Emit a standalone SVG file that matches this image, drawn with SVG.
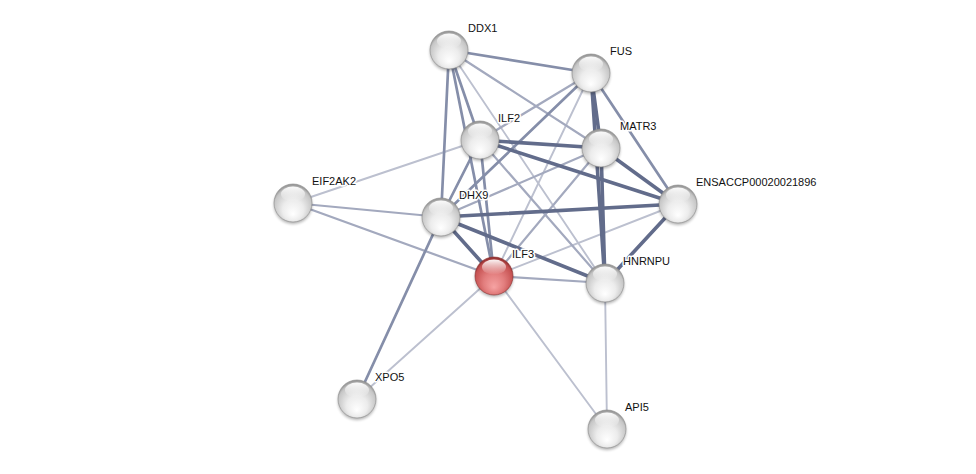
<svg xmlns="http://www.w3.org/2000/svg" width="976" height="474" viewBox="0 0 976 474">
<defs>
<radialGradient id="gGrey" cx="50%" cy="58%" r="55%" fx="50%" fy="80%">
<stop offset="0" stop-color="#ffffff"/>
<stop offset="0.5" stop-color="#ececec"/>
<stop offset="0.9" stop-color="#c6c6c6"/>
<stop offset="1" stop-color="#9a9a9a"/>
</radialGradient>
<radialGradient id="gRed" cx="50%" cy="58%" r="55%" fx="50%" fy="80%">
<stop offset="0" stop-color="#f6a3a3"/>
<stop offset="0.5" stop-color="#e27d7d"/>
<stop offset="0.9" stop-color="#c65252"/>
<stop offset="1" stop-color="#963434"/>
</radialGradient>
<linearGradient id="gHi" x1="0" y1="0" x2="0" y2="1">
<stop offset="0" stop-color="#ffffff" stop-opacity="0.95"/>
<stop offset="1" stop-color="#ffffff" stop-opacity="0"/>
</linearGradient>
<filter id="sh" x="-50%" y="-50%" width="200%" height="200%">
<feGaussianBlur stdDeviation="1.5"/>
</filter>
</defs>
<style>
.e{fill:none;stroke-linecap:round}
.w1{stroke:#bcc0cf;stroke-width:1.9}
.w2{stroke:#a3a9be;stroke-width:2.2}
.w3{stroke:#858ea9;stroke-width:2.7}
.w4{stroke:#626c8b;stroke-width:3.6}
.sh{fill:#000;opacity:0.3;filter:url(#sh)}
.ball{fill:url(#gGrey);stroke:#8a8a8a;stroke-width:0.6}
.red{fill:url(#gRed);stroke:#8a2d2d;stroke-width:0.6}
.hi{fill:url(#gHi)}
text{font-family:"Liberation Sans",Arial,sans-serif;font-size:11px;fill:#111;stroke:#fff;stroke-width:3;stroke-linejoin:round;paint-order:stroke}
</style>
<rect width="976" height="474" fill="#ffffff"/>
<g id="connectors">
<line class="e w1" x1="605" y1="283" x2="607" y2="429"/>
<line class="e w1" x1="494" y1="276" x2="607" y2="429"/>
<line class="e w1" x1="494" y1="276" x2="357" y2="399"/>
<line class="e w1" x1="449" y1="50" x2="605" y2="283"/>
<line class="e w1" x1="293" y1="203" x2="480" y2="140"/>
<line class="e w1" x1="591" y1="73" x2="494" y2="276"/>
<line class="e w1" x1="678" y1="204" x2="494" y2="276"/>
<line class="e w2" x1="494" y1="276" x2="605" y2="283"/>
<line class="e w2" x1="293" y1="203" x2="441" y2="217"/>
<line class="e w2" x1="293" y1="203" x2="494" y2="276"/>
<line class="e w2" x1="449" y1="50" x2="601" y2="148"/>
<line class="e w2" x1="601" y1="148" x2="494" y2="276"/>
<line class="e w2" x1="591" y1="73" x2="480" y2="140"/>
<line class="e w2" x1="480" y1="140" x2="605" y2="283"/>
<line class="e w2" x1="441" y1="217" x2="601" y2="148"/>
<line class="e w3" x1="449" y1="50" x2="591" y2="73"/>
<line class="e w3" x1="449" y1="50" x2="480" y2="140"/>
<line class="e w3" x1="449" y1="50" x2="441" y2="217"/>
<line class="e w3" x1="449" y1="50" x2="494" y2="276"/>
<line class="e w3" x1="591" y1="73" x2="441" y2="217"/>
<line class="e w3" x1="591" y1="73" x2="678" y2="204"/>
<line class="e w3" x1="480" y1="140" x2="441" y2="217"/>
<line class="e w3" x1="480" y1="140" x2="494" y2="276"/>
<line class="e w3" x1="441" y1="217" x2="357" y2="399"/>
<line class="e w4" x1="591" y1="73" x2="601" y2="148"/>
<line class="e w4" x1="591" y1="73" x2="605" y2="283"/>
<line class="e w4" x1="480" y1="140" x2="601" y2="148"/>
<line class="e w4" x1="480" y1="140" x2="678" y2="204"/>
<line class="e w4" x1="601" y1="148" x2="605" y2="283"/>
<line class="e w4" x1="601" y1="148" x2="678" y2="204"/>
<line class="e w4" x1="441" y1="217" x2="678" y2="204"/>
<line class="e w4" x1="441" y1="217" x2="494" y2="276"/>
<line class="e w4" x1="441" y1="217" x2="605" y2="283"/>
<line class="e w4" x1="678" y1="204" x2="605" y2="283"/>
</g>
<g id="DDX1"><circle class="sh" cx="449" cy="52" r="19"/><circle class="ball" cx="449" cy="50" r="19"/><ellipse class="hi" cx="449" cy="41" rx="12" ry="7.5"/><text x="468" y="32">DDX1</text></g>
<g id="FUS"><circle class="sh" cx="591" cy="75" r="19"/><circle class="ball" cx="591" cy="73" r="19"/><ellipse class="hi" cx="591" cy="64" rx="12" ry="7.5"/><text x="610" y="55">FUS</text></g>
<g id="ILF2"><circle class="sh" cx="480" cy="142" r="19"/><circle class="ball" cx="480" cy="140" r="19"/><ellipse class="hi" cx="480" cy="131" rx="12" ry="7.5"/><text x="498" y="122">ILF2</text></g>
<g id="MATR3"><circle class="sh" cx="601" cy="150" r="19"/><circle class="ball" cx="601" cy="148" r="19"/><ellipse class="hi" cx="601" cy="139" rx="12" ry="7.5"/><text x="620" y="130">MATR3</text></g>
<g id="EIF2AK2"><circle class="sh" cx="293" cy="205" r="19"/><circle class="ball" cx="293" cy="203" r="19"/><ellipse class="hi" cx="293" cy="194" rx="12" ry="7.5"/><text x="312" y="185">EIF2AK2</text></g>
<g id="DHX9"><circle class="sh" cx="441" cy="219" r="19"/><circle class="ball" cx="441" cy="217" r="19"/><ellipse class="hi" cx="441" cy="208" rx="12" ry="7.5"/><text x="459" y="199">DHX9</text></g>
<g id="ENSACCP00020021896"><circle class="sh" cx="678" cy="206" r="19"/><circle class="ball" cx="678" cy="204" r="19"/><ellipse class="hi" cx="678" cy="195" rx="12" ry="7.5"/><text x="696" y="186">ENSACCP00020021896</text></g>
<g id="ILF3"><circle class="sh" cx="494" cy="278" r="19"/><circle class="red" cx="494" cy="276" r="19"/><ellipse class="hi" cx="494" cy="267" rx="12" ry="7.5"/><text x="512" y="258">ILF3</text></g>
<g id="HNRNPU"><circle class="sh" cx="605" cy="285" r="19"/><circle class="ball" cx="605" cy="283" r="19"/><ellipse class="hi" cx="605" cy="274" rx="12" ry="7.5"/><text x="623" y="265">HNRNPU</text></g>
<g id="XPO5"><circle class="sh" cx="357" cy="401" r="19"/><circle class="ball" cx="357" cy="399" r="19"/><ellipse class="hi" cx="357" cy="390" rx="12" ry="7.5"/><text x="375" y="381">XPO5</text></g>
<g id="API5"><circle class="sh" cx="607" cy="431" r="19"/><circle class="ball" cx="607" cy="429" r="19"/><ellipse class="hi" cx="607" cy="420" rx="12" ry="7.5"/><text x="625" y="411">API5</text></g>
</svg>
